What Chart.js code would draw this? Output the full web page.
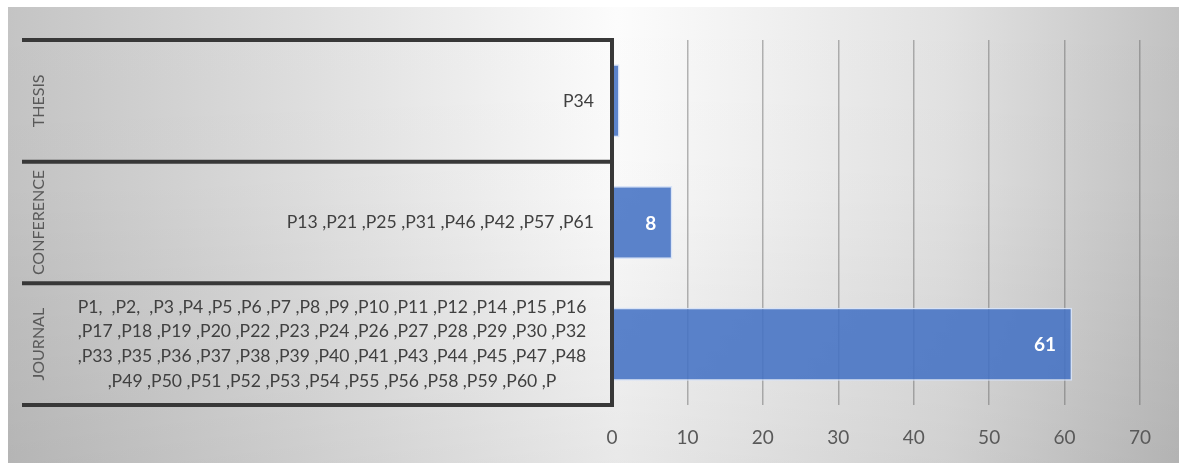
<!DOCTYPE html>
<html>
<head>
<meta charset="utf-8">
<script src="https://cdn.jsdelivr.net/npm/chart.js@4/dist/chart.umd.min.js"></script>
<style>
  html, body { margin: 0; padding: 0; background: #ffffff; }
  #wrap { width: 1179px; height: 463px; }
  canvas { display: block; }
</style>
</head>
<body>
<div id="wrap"><canvas id="chart" width="1179" height="463"></canvas></div>
<script>
// Publication types and how many papers fall into each
const categories = ['THESIS', 'CONFERENCE', 'JOURNAL'];
const counts = [1, 8, 61];

// Paper identifiers listed beside each publication type
const thesisPapers = ['P34'];
const conferencePapers = ['P13 ,P21 ,P25 ,P31 ,P46 ,P42 ,P57 ,P61'];
const journalPapers = [
  'P1,  ,P2,  ,P3 ,P4 ,P5 ,P6 ,P7 ,P8 ,P9 ,P10 ,P11 ,P12 ,P14 ,P15 ,P16',
  ',P17 ,P18 ,P19 ,P20 ,P22 ,P23 ,P24 ,P26 ,P27 ,P28 ,P29 ,P30 ,P32',
  ',P33 ,P35 ,P36 ,P37 ,P38 ,P39 ,P40 ,P41 ,P43 ,P44 ,P45 ,P47 ,P48',
  ',P49 ,P50 ,P51 ,P52 ,P53 ,P54 ,P55 ,P56 ,P58 ,P59 ,P60 ,P'
];
const paperLists = [thesisPapers, conferencePapers, journalPapers];

// Value axis ticks
const xTicks = [0, 10, 20, 30, 40, 50, 60, 70];

const FONT = 'Lato, "Open Sans", sans-serif';

// Soft grey-to-white backdrop behind the whole chart
const backdrop = {
  id: 'backdrop',
  beforeDraw(chart) {
    const ctx = chart.ctx;
    const x0 = 8, y0 = 7, w = chart.width - 8, h = chart.height - 7;
    ctx.save();
    const gx = ctx.createLinearGradient(x0, 0, x0 + w, 0);
    gx.addColorStop(0, '#c4c4c4');
    gx.addColorStop(0.2, '#d9d9d9');
    gx.addColorStop(0.52, '#fcfcfc');
    gx.addColorStop(0.8, '#e2e2e2');
    gx.addColorStop(1, '#c2c2c2');
    ctx.fillStyle = gx;
    ctx.fillRect(x0, y0, w, h);
    const gy = ctx.createLinearGradient(0, y0, 0, y0 + h);
    gy.addColorStop(0, 'rgba(0,0,0,0)');
    gy.addColorStop(0.4, 'rgba(0,0,0,0.01)');
    gy.addColorStop(1, 'rgba(0,0,0,0.08)');
    ctx.fillStyle = gy;
    ctx.fillRect(x0, y0, w, h);
    ctx.restore();
  }
};

// Framed table on the left: type names rotated, paper lists beside them
const paperTable = {
  id: 'paperTable',
  afterDraw(chart) {
    const ctx = chart.ctx;
    const y = chart.scales.y;
    const area = chart.chartArea;
    const n = categories.length;
    const band = (area.bottom - area.top) / n;
    const tableLeft = 22;
    const tableRight = area.left;
    ctx.save();

    categories.forEach((name, i) => {
      const cy = y.getPixelForValue(i);
      ctx.save();
      ctx.translate(38, cy);
      ctx.rotate(-Math.PI / 2);
      ctx.fillStyle = '#595959';
      ctx.font = '16px ' + FONT;
      ctx.textAlign = 'center';
      ctx.textBaseline = 'middle';
      ctx.fillText(name, 0, 1);
      ctx.restore();

      const lines = paperLists[i];
      ctx.fillStyle = '#404040';
      ctx.font = '17.6px ' + FONT;
      ctx.textBaseline = 'middle';
      const lh = 24.7;
      const startY = cy - (lines.length - 1) * lh / 2;
      lines.forEach((ln, k) => {
        if (lines.length > 1) {
          ctx.textAlign = 'center';
          ctx.fillText(ln, 332, startY + k * lh);
        } else {
          ctx.textAlign = 'right';
          ctx.fillText(ln, 594, startY + k * lh);
        }
      });
    });

    ctx.strokeStyle = '#383838';
    ctx.lineWidth = 4;
    for (let i = 0; i <= n; i++) {
      const ly = area.top + i * band;
      ctx.beginPath();
      ctx.moveTo(tableLeft, ly);
      ctx.lineTo(tableRight + 2, ly);
      ctx.stroke();
    }
    ctx.beginPath();
    ctx.moveTo(tableRight, area.top - 2);
    ctx.lineTo(tableRight, area.bottom + 2);
    ctx.stroke();
    ctx.restore();
  }
};

// Value written inside the end of each bar that has room for it
const barValues = {
  id: 'barValues',
  afterDraw(chart) {
    const ctx = chart.ctx;
    const meta = chart.getDatasetMeta(0);
    ctx.save();
    ctx.fillStyle = '#ffffff';
    ctx.font = 'bold 19px ' + FONT;
    ctx.textAlign = 'right';
    ctx.textBaseline = 'middle';
    meta.data.forEach((bar, i) => {
      const w = bar.x - bar.base;
      if (w > 40) {
        ctx.fillText(String(counts[i]), bar.x - 16, bar.y + 1);
      }
    });
    ctx.restore();
  }
};

new Chart(document.getElementById('chart'), {
  type: 'bar',
  data: {
    labels: categories,
    datasets: [{
      data: counts,
      backgroundColor: 'rgba(68, 114, 196, 0.88)',
      borderColor: 'rgba(215, 227, 248, 0.95)',
      borderWidth: 1.5,
      barPercentage: 0.6,
      categoryPercentage: 1.0
    }]
  },
  options: {
    indexAxis: 'y',
    responsive: false,
    animation: false,
    devicePixelRatio: 1,
    layout: { padding: { left: 612, right: 39, top: 40, bottom: 0 } },
    plugins: {
      legend: { display: false },
      tooltip: { enabled: false }
    },
    scales: {
      y: {
        display: false
      },
      x: {
        min: 0,
        max: 70,
        z: 1,
        afterBuildTicks(scale) {
          scale.ticks = xTicks.map(v => ({ value: v }));
        },
        afterFit(scale) {
          scale.height = 58;
        },
        grid: {
          color: 'rgba(95, 95, 95, 0.45)',
          lineWidth: 1.5,
          drawTicks: false
        },
        border: { display: false },
        ticks: {
          color: '#595959',
          font: { family: FONT, size: 19 },
          padding: 21
        }
      }
    }
  },
  plugins: [backdrop, paperTable, barValues]
});
</script>
</body>
</html>
